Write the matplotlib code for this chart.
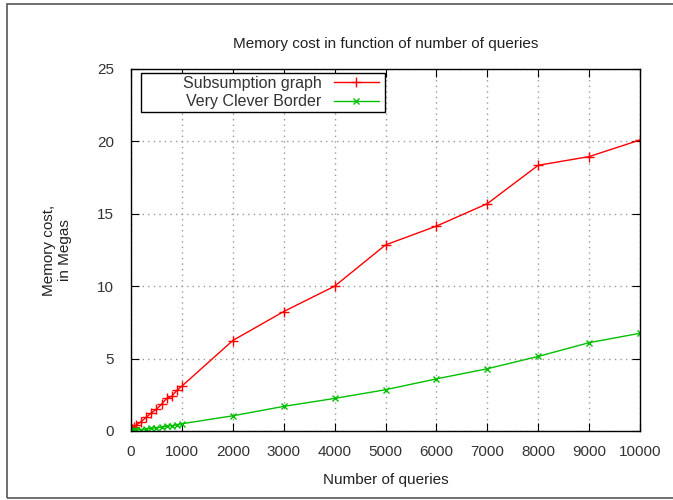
import numpy as np
import matplotlib.pyplot as plt
from matplotlib.patches import Rectangle

plt.rcParams['font.family'] = ['Liberation Sans', 'DejaVu Sans']

queries = [0, 10, 20, 50, 100, 200, 300, 400, 500, 600, 700, 800, 900, 1000,
           2000, 3000, 4000, 5000, 6000, 7000, 8000, 9000, 10000]
subsumption = [0.05, 0.1, 0.15, 0.25, 0.4, 0.65, 0.95, 1.25, 1.5, 1.85, 2.25, 2.4, 2.8, 3.1,
               6.25, 8.25, 10.0, 12.85, 14.15, 15.7, 18.35, 18.95, 20.1]
clever_border = [0.01, 0.02, 0.03, 0.04, 0.06, 0.1, 0.14, 0.18, 0.22, 0.27, 0.32, 0.37, 0.42, 0.5,
                 1.05, 1.7, 2.25, 2.85, 3.6, 4.3, 5.15, 6.1, 6.75]

txt = '#333333'

fig = plt.figure(figsize=(6.73, 5), dpi=100)
ax = fig.add_axes([131/673, 69/500, 509/673, 362/500])

# outer frame around the whole figure
fig.patches.append(Rectangle((7/673, 2/500), 700/673, 494/500, transform=fig.transFigure,
                             fill=False, edgecolor='#555555', linewidth=1.2))

ax.plot(queries, subsumption, color='#ff0000', marker='+', markersize=7, linewidth=1,
        label='Subsumption graph')
ax.plot(queries, clever_border, color='#00c000', marker='x', markersize=5, linewidth=1,
        label='Very Clever Border')

ax.set_xlim(0, 10000)
ax.set_ylim(0, 25)
ax.set_xticks(np.arange(0, 10001, 1000))
ax.set_yticks(np.arange(0, 26, 5))
ax.grid(True, linestyle=(0, (1, 3)), color='#999999', linewidth=1)
ax.tick_params(direction='in', top=True, right=True, length=6, labelsize=11,
               labelcolor=txt)
ax.tick_params(axis='x', pad=10)
ax.tick_params(axis='y', pad=12)
for s in ax.spines.values():
    s.set_linewidth(1)

ax.set_title('Memory cost in function of number of queries', fontsize=11, pad=15, color='#222222')
ax.set_xlabel('Number of queries', fontsize=11, color='#222222', labelpad=10)
ax.set_ylabel('Memory cost,\nin Megas', fontsize=11, color='#222222', labelpad=18)

# key box in the upper left, entries right-aligned inside it
box = Rectangle((0.0196, 0.881), 0.479, 0.108, transform=ax.transAxes, fill=True,
                facecolor='white', edgecolor='black', linewidth=1, zorder=4)
ax.add_patch(box)
leg = ax.legend(loc='upper right', bbox_to_anchor=(0.49, 0.985), markerfirst=False,
                frameon=False, fontsize=11.5, handlelength=2.8, handletextpad=0.8,
                borderpad=0.1, borderaxespad=0, labelspacing=0.2)
leg.set_zorder(5)
for t in leg.get_texts():
    t.set_color(txt)

fig.savefig('out.png', dpi=100)
